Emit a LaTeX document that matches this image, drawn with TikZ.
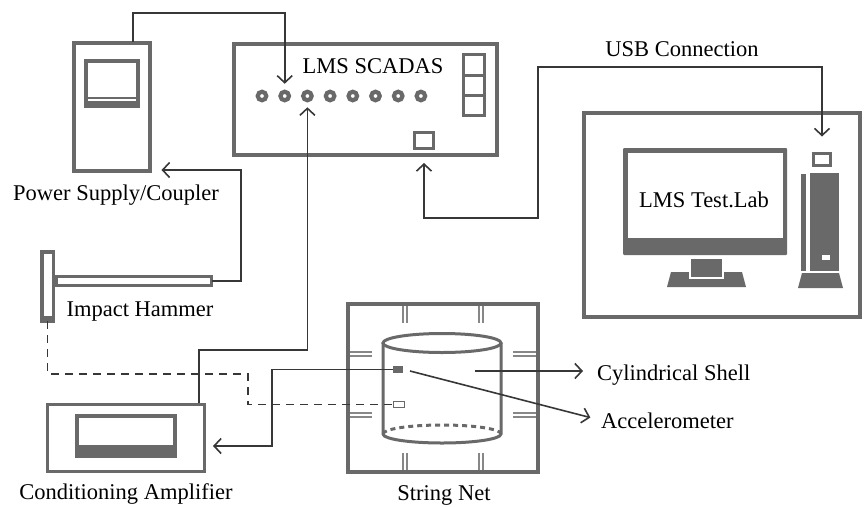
\documentclass[tikz,border=0pt]{standalone}
\usepackage{fontspec}
\setmainfont{Liberation Serif}
\usetikzlibrary{arrows.meta,calc}
\definecolor{devgray}{RGB}{105,105,105}
\definecolor{wiregray}{RGB}{55,55,55}
\definecolor{tickgray}{RGB}{135,135,135}
\begin{document}
\begin{tikzpicture}[x=1pt,y=-1pt,
  dev/.style={draw=devgray, line width=3.5pt, inner sep=0pt, outer sep=0pt, rectangle},
  thindev/.style={dev, line width=3pt},
  port/.style={circle, draw=devgray, line width=4.2pt, minimum size=8.5pt, inner sep=0pt, outer sep=0pt},
  wire/.style={draw=wiregray, line width=1.6pt},
  barb/.tip={Straight Barb[length=7pt,width=15pt]},
  tip/.style={-barb},
  dashwire/.style={wire, dash pattern=on 8pt off 6pt},
  netmark/.style={draw=tickgray, line width=1.3pt},
  cyl/.style={draw=devgray, line width=3pt},
  lbl/.style={font=\fontsize{22.5}{27}\selectfont, inner sep=0pt, anchor=base},
]
\useasboundingbox (0,0) rectangle (864,506);

% ---------- power supply / coupler ----------
\node[dev, minimum width=76pt, minimum height=128pt] (ps) at (112,107) {};
\fill[devgray] (84,59) rectangle (140,108);
\fill[white] (88,63) rectangle (136,97);
\fill[white] (88,99) rectangle (136,101);
\node[lbl] (lbl-ps) at (116,200) {Power Supply/Coupler};
\coordinate (ps-out) at (133,42);
\coordinate (ps-in) at (241,170);

% ---------- LMS SCADAS front end ----------
\node[dev, minimum width=263pt, minimum height=111pt] (scadas) at (365.5,99.5) {};
\node[thindev, minimum width=21pt, minimum height=61pt] (keys) at (474,85) {};
\draw[devgray, line width=3pt] (keys.west |- 0,75) -- (keys.east |- 0,75)
                               (keys.west |- 0,95.5) -- (keys.east |- 0,95.5);
\node[thindev, minimum width=19pt, minimum height=16pt] (usbport) at (424,140.5) {};
\foreach \i in {1,...,8}
  \node[port] (p\i) at ({262+22.7*(\i-1)},96) {};
\node[lbl] (lbl-scadas) at (373,73) {LMS SCADAS};

% ---------- computer with LMS Test.Lab ----------
\node[dev, minimum width=276pt, minimum height=204pt] (pcbox) at (722,215) {};
\fill[devgray, rounded corners=1pt] (623,148) rectangle (787,255);
\fill[white] (628,153) rectangle (783,238);
\fill[devgray] (671,272) -- (742,272) -- (746,287) -- (667,287) -- cycle;
\filldraw[fill=devgray, draw=white, line width=2pt] (690,258) rectangle (723,278);
\node[lbl] (lbl-testlab) at (704,207) {LMS Test.Lab};
\fill[devgray] (801,174) rectangle (806,271);
\fill[devgray] (810,173) rectangle (839,271);
\fill[white] (822,255) rectangle (830,260);
\fill[devgray] (802,273) -- (839,273) -- (843,288) -- (798,288) -- cycle;
\node[thindev, minimum width=17pt, minimum height=12pt] (pcport) at (822,159.5) {};
\node[lbl] (lbl-usb) at (682,56) {USB Connection};
\coordinate (usb-a) at (538,218);
\coordinate (usb-b) at (538,67);

% ---------- impact hammer ----------
\node[thindev, minimum width=155pt, minimum height=9pt] (hshaft) at (134,281) {};
\node[dev, fill=white, minimum width=11.5pt, minimum height=69.5pt] (hhandle) at (47.5,286.5) {};
\fill[devgray] (40,316) rectangle (55,323);
\node[lbl] (lbl-hammer) at (140,316) {Impact Hammer};

% ---------- conditioning amplifier ----------
\node[dev, minimum width=157pt, minimum height=67pt] (amp) at (126,438) {};
\fill[devgray] (75,414) rectangle (177,458);
\fill[white] (79,418) rectangle (173,445);
\node[lbl] (lbl-amp) at (126,499) {Conditioning Amplifier};
\coordinate (amp-out) at (199,403);

% ---------- string net with cylindrical shell ----------
\node[dev, minimum width=190pt, minimum height=168pt] (net) at (443,388) {};
\foreach \x in {405,481} {
  \draw[netmark] (\x-2,306) -- (\x-2,323) (\x+2,306) -- (\x+2,323);
  \draw[netmark] (\x-2,453) -- (\x-2,470) (\x+2,453) -- (\x+2,470);
}
\foreach \y in {354,415} {
  \draw[netmark] (350,\y-2) -- (372,\y-2) (350,\y+2) -- (372,\y+2);
  \draw[netmark] (513,\y-2) -- (536,\y-2) (513,\y+2) -- (536,\y+2);
}
\draw[cyl] (442,343) ellipse[x radius=59pt, y radius=9.5pt];
\draw[cyl] (383,343) -- (383,434) arc[start angle=180, end angle=360, x radius=59pt, y radius=9pt] -- (501,343);
\draw[cyl, dash pattern=on 5pt off 4pt] (383,434) arc[start angle=180, end angle=0, x radius=59pt, y radius=9pt];
\node[lbl] (lbl-net) at (444,500) {String Net};

% accelerometer and hammer sensor pads
\node[fill=devgray, minimum width=10pt, minimum height=7pt, inner sep=0pt, outer sep=0pt] (fsq) at (398,369.5) {};
\node[draw=devgray, line width=1.5pt, fill=white, minimum width=11pt, minimum height=6pt, inner sep=0pt, outer sep=0pt] (wsq) at (399,404.5) {};
\coordinate (shell-pt) at (475,371);
\coordinate (acc-pt) at (410,371);
\coordinate (acc-b) at (272,446);
\coordinate (dash-a) at (248,374);
\node[lbl, anchor=base west] (lbl-shell) at (597,380) {Cylindrical Shell};
\node[lbl, anchor=base west] (lbl-acc) at (601,428) {Accelerometer};

% ---------- connections ----------
\coordinate (top-y) at (0,13);
\coordinate (mid-y) at (0,350);
\draw[wire, tip, shorten >=8pt] (ps-out) |- (p2 |- top-y) -- (p2.north);
\draw[wire, tip, shorten >=7pt] (amp-out) |- (p3 |- mid-y) -- (p3.south);
\draw[wire, barb-barb, shorten <=14.5pt, shorten >=17pt] (usbport.south) |- (usb-a) -- (usb-b) -| (pcport.north);
\draw[wire, tip, shorten >=11.5pt] (hshaft.east) -| (ps-in) -- (ps.east |- ps-in);
\draw[dashwire] (hhandle.south) |- (dash-a) |- (wsq.west);
\draw[wire, tip, shorten >=8.5pt] (fsq.west) -| (acc-b) -- (amp.east |- acc-b);
\draw[wire, tip, shorten >=14pt] (shell-pt) -- (lbl-shell.west |- shell-pt);
\draw[wire, tip, shorten >=11pt] (acc-pt) -- (lbl-acc.west);
\end{tikzpicture}
\end{document}
